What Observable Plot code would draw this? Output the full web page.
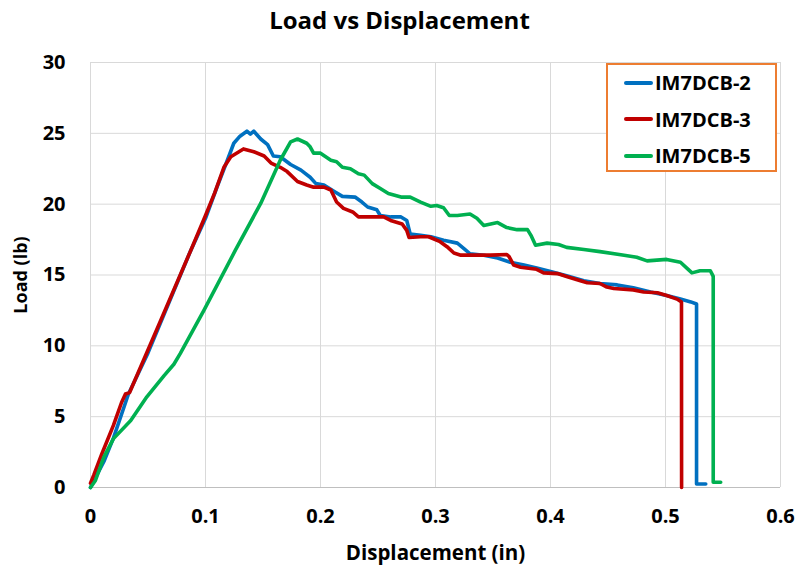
<!DOCTYPE html>
<html>
<head>
<meta charset="utf-8">
<script src="https://cdn.jsdelivr.net/npm/d3@7"></script>
<script src="https://cdn.jsdelivr.net/npm/@observablehq/plot@0.6"></script>
<style>
  body { margin: 0; background: #fff; font-family: "Open Sans", sans-serif; color: #000; }
  #chart { position: relative; width: 799px; height: 571px; overflow: hidden; }
  #title { position: absolute; left: 0; top: 0; width: 799px; text-align: center;
           font-weight: 700; font-size: 24px; line-height: 40px; }
  #plot { position: absolute; left: 0; top: 40px; }
  #plot svg { font-family: "Open Sans", sans-serif; font-weight: 700; color: #000; }
  #plot g[aria-label="x-axis tick label"] text,
  #plot g[aria-label="y-axis tick label"] text { font-size: 20px; }
  #plot g[aria-label="x-axis label"] text { font-size: 20.5px; }
  #plot g[aria-label="y-axis label"] text { font-size: 18px; }
  #legend { position: absolute; left: 606px; top: 63px; width: 167px; height: 105px;
            border: 2px solid #ED7D31; background: #fff; }
  .row { position: absolute; left: 0; height: 30px; display: flex; align-items: center;
         font-weight: 700; font-size: 20px; white-space: nowrap; }
  .swatch { width: 29px; height: 4px; border-radius: 2px; margin-left: 16px; margin-right: 2px; }
</style>
</head>
<body>
<div id="chart">
  <div id="title">Load vs Displacement</div>
  <div id="plot"></div>
  <div id="legend"></div>
</div>
<script>
// Specimen names and line colours
const seriesNames = ["IM7DCB-2", "IM7DCB-3", "IM7DCB-5"];
const seriesColors = ["#0070C0", "#C00000", "#00B050"];

// Axis ticks
const xTicks = [0, 0.1, 0.2, 0.3, 0.4, 0.5, 0.6];
const yTicks = [0, 5, 10, 15, 20, 25, 30];

// [displacement (in), load (lb)]
const im7dcb2 = [
  [0, 0], [0.005, 0.8], [0.012, 1.9], [0.020, 3.5], [0.033, 6.6], [0.05, 9.5],
  [0.087, 16.7], [0.100, 19.0], [0.110, 21.2], [0.119, 23.1], [0.1246, 24.3],
  [0.130, 24.8], [0.136, 25.15], [0.139, 24.95], [0.142, 25.15], [0.148, 24.6],
  [0.154, 24.2], [0.159, 23.4], [0.165, 23.35], [0.174, 22.8], [0.183, 22.4],
  [0.191, 21.9], [0.196, 21.45], [0.203, 21.35], [0.212, 20.9], [0.219, 20.55],
  [0.230, 20.5], [0.236, 20.15], [0.241, 19.8], [0.249, 19.6], [0.252, 19.2],
  [0.261, 19.1], [0.270, 19.1], [0.275, 18.85], [0.278, 17.9], [0.287, 17.8],
  [0.296, 17.7], [0.307, 17.45], [0.319, 17.25], [0.325, 16.85], [0.330, 16.5],
  [0.342, 16.4], [0.354, 16.2], [0.365, 15.9], [0.377, 15.7], [0.388, 15.5],
  [0.400, 15.25], [0.414, 14.95], [0.429, 14.6], [0.443, 14.4], [0.458, 14.3],
  [0.472, 14.1], [0.487, 13.8], [0.501, 13.55], [0.513, 13.3], [0.522, 13.1],
  [0.527, 12.95], [0.527, 0.25], [0.535, 0.25]
];
const im7dcb3 = [
  [0, 0.3], [0.003, 0.9], [0.010, 2.4], [0.020, 4.4], [0.027, 6.0], [0.0304, 6.6],
  [0.034, 6.7], [0.060, 11.6], [0.087, 16.7], [0.100, 19.2], [0.108, 20.8],
  [0.116, 22.6], [0.122, 23.35], [0.133, 23.9], [0.142, 23.7], [0.151, 23.4],
  [0.157, 22.9], [0.165, 22.6], [0.171, 22.3], [0.180, 21.6], [0.188, 21.35],
  [0.194, 21.2], [0.203, 21.2], [0.209, 21.0], [0.214, 20.15], [0.220, 19.7],
  [0.228, 19.45], [0.233, 19.1], [0.243, 19.1], [0.255, 19.1], [0.261, 18.85],
  [0.271, 18.6], [0.275, 18.15], [0.277, 17.65], [0.287, 17.7], [0.294, 17.7],
  [0.304, 17.35], [0.310, 17.0], [0.316, 16.55], [0.322, 16.4], [0.336, 16.4],
  [0.348, 16.4], [0.362, 16.45], [0.364, 16.3], [0.368, 15.7], [0.374, 15.55],
  [0.388, 15.4], [0.394, 15.15], [0.406, 15.1], [0.414, 14.9], [0.426, 14.6],
  [0.432, 14.45], [0.443, 14.4], [0.449, 14.15], [0.455, 14.05], [0.472, 13.95],
  [0.481, 13.8], [0.493, 13.75], [0.501, 13.55], [0.510, 13.3], [0.5139, 13.1],
  [0.514, 0]
];
const im7dcb5 = [
  [0, 0], [0.0043, 0.5], [0.0116, 2.15], [0.020, 3.45], [0.035, 4.73], [0.049, 6.4],
  [0.064, 7.9], [0.0725, 8.7], [0.078, 9.45], [0.0986, 12.5], [0.126, 16.75],
  [0.148, 20.05], [0.165, 23.1], [0.174, 24.4], [0.180, 24.6], [0.188, 24.3],
  [0.191, 24.05], [0.194, 23.6], [0.200, 23.6], [0.209, 23.1], [0.214, 23.0],
  [0.219, 22.6], [0.226, 22.5], [0.233, 22.15], [0.238, 22.05], [0.245, 21.45],
  [0.252, 21.1], [0.259, 20.75], [0.270, 20.5], [0.278, 20.5], [0.287, 20.15],
  [0.296, 19.85], [0.301, 19.9], [0.307, 19.75], [0.312, 19.2], [0.319, 19.2],
  [0.330, 19.3], [0.336, 19.0], [0.342, 18.5], [0.354, 18.7], [0.362, 18.35],
  [0.371, 18.2], [0.380, 18.2], [0.383, 17.8], [0.387, 17.1], [0.397, 17.25],
  [0.407, 17.15], [0.414, 16.95], [0.429, 16.8], [0.443, 16.65], [0.464, 16.4],
  [0.475, 16.25], [0.484, 16.0], [0.501, 16.1], [0.513, 15.9], [0.519, 15.45],
  [0.523, 15.15], [0.530, 15.3], [0.539, 15.3], [0.5415, 14.9], [0.5415, 0.37],
  [0.548, 0.37]
];

const seriesData = [im7dcb2, im7dcb3, im7dcb5];
const rows = seriesData.flatMap((pts, i) =>
  pts.map(([d, load]) => ({ series: seriesNames[i], d, load })));

const fmt = (v) => String(+v.toFixed(1));

const chart = Plot.plot({
  width: 799,
  height: 531,
  marginTop: 22,
  marginBottom: 84,
  marginLeft: 90,
  marginRight: 19,
  x: { domain: [0, 0.6] },
  y: { domain: [0, 30] },
  color: { domain: seriesNames, range: seriesColors },
  marks: [
    Plot.gridX(xTicks, { stroke: "#d9d9d9", strokeOpacity: 1, strokeWidth: 1 }),
    Plot.gridY(yTicks, { stroke: "#d9d9d9", strokeOpacity: 1, strokeWidth: 1 }),
    Plot.ruleY([0], { stroke: "#bfbfbf", strokeWidth: 1.2 }),
    Plot.axisX(xTicks, {
      tickSize: 0, tickPadding: 21, tickFormat: fmt,
      label: "Displacement (in)", labelAnchor: "center", labelArrow: "none", labelOffset: 72
    }),
    Plot.axisY(yTicks, {
      tickSize: 0, tickPadding: 25, tickFormat: fmt,
      label: "Load (lb)", labelAnchor: "center", labelArrow: "none", labelOffset: 76
    }),
    Plot.line(rows, {
      x: "d", y: "load", z: "series", stroke: "series",
      strokeWidth: 3.6, strokeLinejoin: "round", strokeLinecap: "round"
    })
  ]
});
document.getElementById("plot").appendChild(chart);

// Legend: one row per specimen
const legend = d3.select("#legend");
seriesNames.forEach((name, i) => {
  const row = legend.append("div").attr("class", "row").style("top", (2.5 + i * 36.7) + "px");
  row.append("div").attr("class", "swatch").style("background", seriesColors[i]);
  row.append("span").text(name);
});
</script>
</body>
</html>
